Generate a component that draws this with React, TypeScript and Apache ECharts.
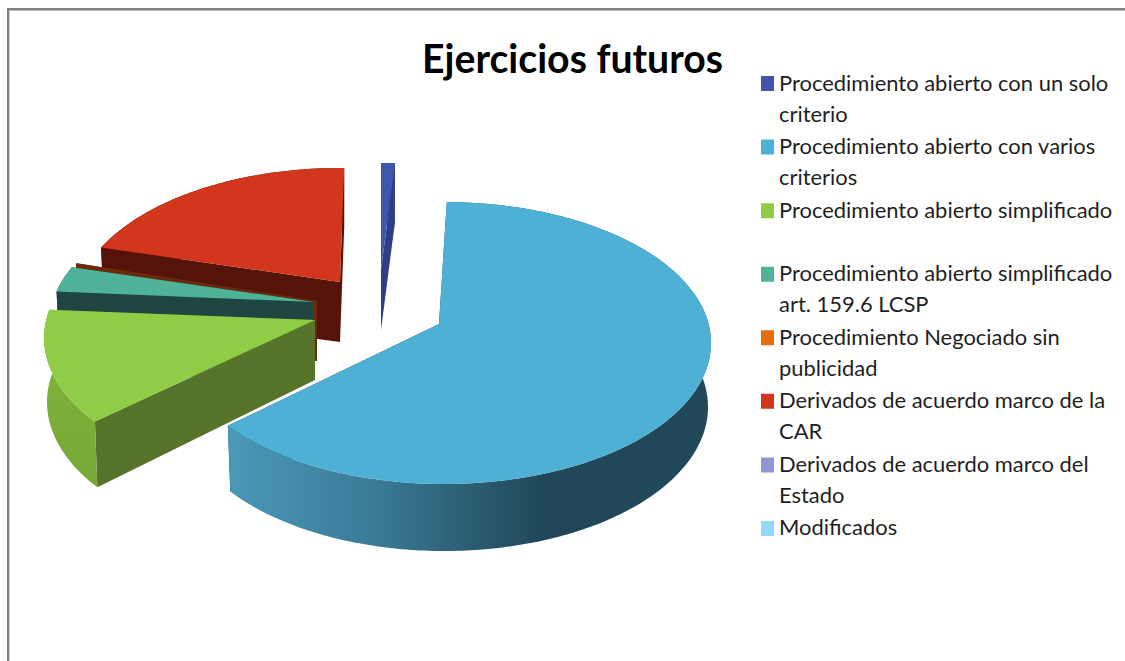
import React, { useEffect, useRef } from "react";
import * as echarts from "echarts";

const titleText = "Ejercicios futuros";
const categories = [
  "Procedimiento abierto con un solo criterio",
  "Procedimiento abierto con varios criterios",
  "Procedimiento abierto simplificado",
  "Procedimiento abierto simplificado art. 159.6 LCSP",
  "Procedimiento Negociado sin publicidad",
  "Derivados de acuerdo marco de la CAR",
  "Derivados de acuerdo marco del Estado",
  "Modificados",
];
const legendLines = [
  "Procedimiento abierto con un solo\ncriterio",
  "Procedimiento abierto con varios\ncriterios",
  "Procedimiento abierto simplificado\n ",
  "Procedimiento abierto simplificado\nart. 159.6 LCSP",
  "Procedimiento Negociado sin\npublicidad",
  "Derivados de acuerdo marco de la\nCAR",
  "Derivados de acuerdo marco del\nEstado",
  "Modificados\n ",
];
const shares = [0.83, 64.85, 13.2, 3.0, 0.12, 18.0, 0, 0];

const legendColors = ["#3f55ae", "#4fb0d5", "#8fcd47", "#4fb39a", "#e46c0a", "#d2361c", "#8f96d4", "#92d9f5"];
const faceColors = ["#3f55ae", "#4fb0d5", "#8fcd47", "#4fb39a", "#6b3208", "#d2361c", "#8f96d4", "#92d9f5"];
const wallColors = ["#2e3f85", "#1f4757", "#56752a", "#1f4641", "#6b2a0c", "#55130a", "#5a6090", "#5a8fa5"];
const drawOrder = [3, 7, 6, 5, 4, 2, 1, 1];

// Placement of each exploded slice in the 3D projection
const slices = [
  { cx: 381, cy: 305, ax: 381, ay: 270, rx: 266, ry: 142, twist: 0 },
  { cx: 444, cy: 343, ax: 439, ay: 324, rx: 267, ry: 141, twist: -2.4 },
  { cx: 310, cy: 338, ax: 315, ay: 320, rx: 266, ry: 142, twist: -2.5 },
  { cx: 308, cy: 322, ax: 314, ay: 302, rx: 258, ry: 136, twist: -1 },
  { cx: 312, cy: 319, ax: 317, ay: 301, rx: 258, ry: 136, twist: -1 },
  { cx: 340, cy: 310, ax: 340, ay: 282, rx: 266, ry: 142, twist: 0.9 },
  { cx: 381, cy: 305, ax: 381, ay: 270, rx: 266, ry: 142, twist: 0 },
  { cx: 381, cy: 305, ax: 381, ay: 270, rx: 266, ry: 142, twist: 0 },
];

const total = shares.reduce((a, b) => a + b, 0);
const RAD = Math.PI / 180;

function renderSlice(params: any, api: any) {
  const i = params.seriesIndex;
  const value = api.value(0);
  if (!value) return null;
  const before = shares.slice(0, i).reduce((a, b) => a + b, 0);
  const g = slices[i];
  const t0 = (before / total) * 360 + g.twist;
  const t1 = ((before + value) / total) * 360 + g.twist;
  const top = (t: number) => [g.cx + g.rx * Math.sin(t * RAD), g.cy - g.ry * Math.cos(t * RAD)];
  const bot = (t: number) => [
    g.cx + (g.rx - 3) * Math.sin(t * RAD),
    g.cy + 64 - (g.ry + 3) * Math.cos(t * RAD),
  ];
  const topArc: number[][] = [];
  const botArc: number[][] = [];
  const steps = Math.max(2, Math.ceil(t1 - t0));
  for (let k = 0; k <= steps; k++) {
    const t = t0 + ((t1 - t0) * k) / steps;
    topArc.push(top(t));
    botArc.push(bot(t));
  }
  const apexTop = [g.ax, g.ay];
  const apexBot = [g.ax, g.ay + 60];
  const wall = wallColors[i];
  let outerFill: any = wall;
  if (i === 1) {
    outerFill = new echarts.graphic.LinearGradient(0, 0, 1, 0, [
      { offset: 0, color: "#4a98b8" },
      { offset: 0.3, color: "#3b7b97" },
      { offset: 0.66, color: "#1f4757" },
      { offset: 1, color: "#21495a" },
    ]);
  } else if (i === 2) {
    outerFill = new echarts.graphic.LinearGradient(0, 0, 0, 1, [
      { offset: 0, color: "#84b43c" },
      { offset: 1, color: "#76a836" },
    ]);
  }
  const poly = (points: number[][], fill: any) => ({
    type: "polygon",
    shape: { points },
    style: { fill, stroke: "none" },
  });
  return {
    type: "group",
    children: [
      poly([apexTop, topArc[topArc.length - 1], botArc[botArc.length - 1], apexBot], wall),
      poly([apexTop, topArc[0], botArc[0], apexBot], wall),
      poly([...topArc, ...botArc.slice().reverse()], outerFill),
      poly([apexTop, ...topArc], faceColors[i]),
    ],
  };
}

export default function App() {
  const ref = useRef<HTMLDivElement>(null);
  useEffect(() => {
    const chart = echarts.init(ref.current!, null, { renderer: "svg" });
    const fontFamily = "Lato, sans-serif";
    chart.setOption({
      animation: false,
      backgroundColor: "#ffffff",
      title: {
        text: titleText,
        left: 567.5,
        top: 33,
        textAlign: "center",
        textStyle: { fontFamily, fontSize: 39.2, fontWeight: "bold", color: "#000000" },
      },
      legend: {
        show: true,
        orient: "vertical",
        left: 761,
        top: 66.5,
        padding: 0,
        itemWidth: 13,
        itemHeight: 43,
        itemGap: 1.57,
        selectedMode: false,
        symbolKeepAspect: false,
        data: categories.map((name, i) => ({
          name,
          icon: "path://M0 0H13V15H0ZM0 43H13V43H0Z",
          itemStyle: { color: legendColors[i], borderWidth: 0 },
        })),
        formatter: (name: string) => legendLines[categories.indexOf(name)],
        textStyle: { fontFamily, fontSize: 21.95, lineHeight: 31, color: "#1f1f1f" },
      },
      graphic: [
        { type: "rect", shape: { x: 7, y: 8, width: 2, height: 653 }, style: { fill: "#808080" } },
        { type: "rect", shape: { x: 9, y: 10, width: 1, height: 651 }, style: { fill: "#d4d4d4" } },
        { type: "rect", shape: { x: 7, y: 8, width: 1118, height: 2 }, style: { fill: "#808080" } },
        { type: "rect", shape: { x: 9, y: 10, width: 1116, height: 1 }, style: { fill: "#b8b8b8" } },
      ],
      series: categories.map((name, i) => ({
        type: "custom",
        name,
        coordinateSystem: "none",
        z: drawOrder[i],
        silent: true,
        itemStyle: { color: legendColors[i] },
        renderItem: renderSlice,
        data: [[shares[i]]],
      })),
    });
    return () => chart.dispose();
  }, []);
  return <div ref={ref} style={{ position: "absolute", left: 0, top: 0, width: 1125, height: 661 }} />;
}
